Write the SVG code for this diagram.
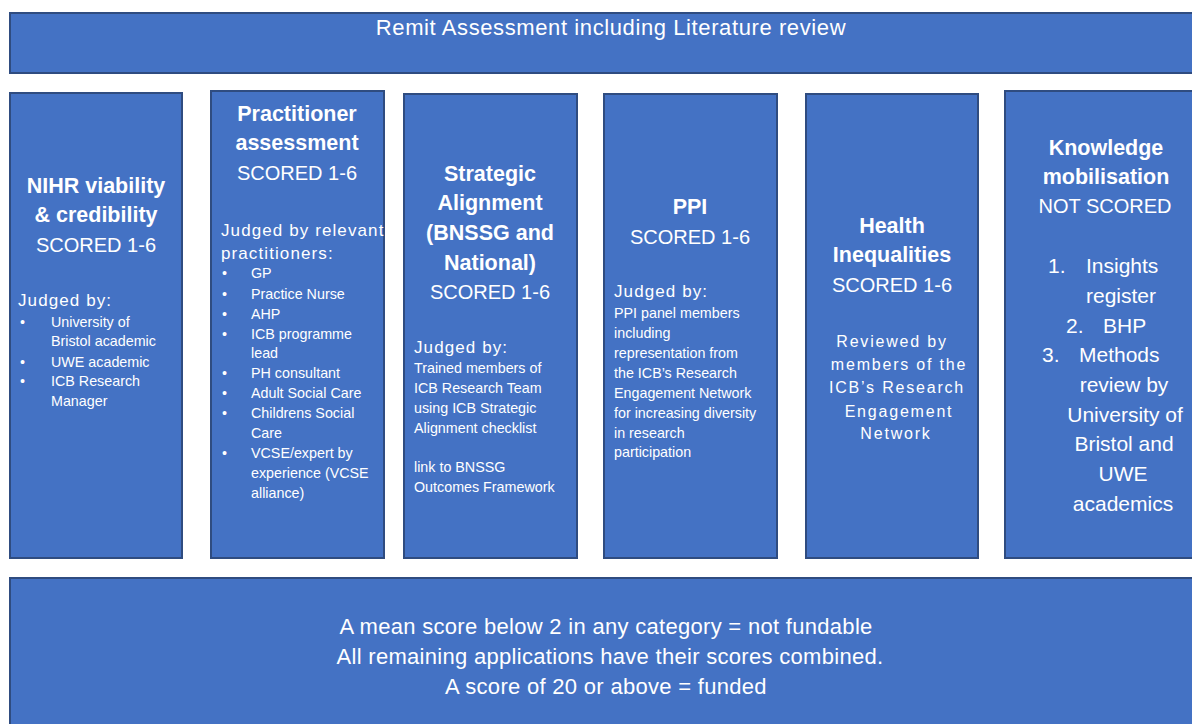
<svg xmlns="http://www.w3.org/2000/svg" width="1192" height="724" viewBox="0 0 1192 724">
<style>
.box{fill:#4472C4;stroke:#2F4C80;stroke-width:2}
text{font-family:"Liberation Sans",Arial,sans-serif;fill:#ffffff}
.h{font-size:21.5px;font-weight:bold;text-anchor:middle}
.sc{font-size:20px;text-anchor:middle}
.big{font-size:22px;text-anchor:middle;letter-spacing:0.3px}
.jb{font-size:17px;letter-spacing:1.1px}
.sm{font-size:14.3px}
.rv{font-size:16px;letter-spacing:1.8px;text-anchor:middle}
.km{font-size:21px}
</style>
<rect width="1192" height="724" fill="#ffffff"/>
<g id="remit">
<rect class="box" x="10" y="13" width="1200" height="60"/>
<text class="big" x="611" y="35" style="letter-spacing:0.6px">Remit Assessment including Literature review</text>
</g>
<g id="nihr">
<rect class="box" x="10" y="93" width="172" height="465"/>
<text class="h" x="96" y="193">NIHR viability</text>
<text class="h" x="96" y="222">&amp; credibility</text>
<text class="sc" x="96" y="252">SCORED 1-6</text>
<text class="jb" x="18" y="306">Judged by:</text>
<text class="sm" x="20" y="327">•</text><text class="sm" x="51" y="327">University of</text>
<text class="sm" x="51" y="346">Bristol academic</text>
<text class="sm" x="20" y="367">•</text><text class="sm" x="51" y="367">UWE academic</text>
<text class="sm" x="20" y="386">•</text><text class="sm" x="51" y="386">ICB Research</text>
<text class="sm" x="51" y="406">Manager</text>
</g>
<g id="practitioner">
<rect class="box" x="211" y="91" width="173" height="467"/>
<text class="h" x="297" y="121">Practitioner</text>
<text class="h" x="297" y="150">assessment</text>
<text class="sc" x="297" y="180">SCORED 1-6</text>
<text class="jb" x="221" y="236">Judged by relevant</text>
<text class="jb" x="221" y="259">practitioners:</text>
<text class="sm" x="222" y="278">•</text><text class="sm" x="251" y="278">GP</text>
<text class="sm" x="222" y="299">•</text><text class="sm" x="251" y="299">Practice Nurse</text>
<text class="sm" x="222" y="319">•</text><text class="sm" x="251" y="319">AHP</text>
<text class="sm" x="222" y="339">•</text><text class="sm" x="251" y="339">ICB programme</text>
<text class="sm" x="251" y="358">lead</text>
<text class="sm" x="222" y="378">•</text><text class="sm" x="251" y="378">PH consultant</text>
<text class="sm" x="222" y="398">•</text><text class="sm" x="251" y="398">Adult Social Care</text>
<text class="sm" x="222" y="418">•</text><text class="sm" x="251" y="418">Childrens Social</text>
<text class="sm" x="251" y="438">Care</text>
<text class="sm" x="222" y="458">•</text><text class="sm" x="251" y="458">VCSE/expert by</text>
<text class="sm" x="251" y="478">experience (VCSE</text>
<text class="sm" x="251" y="498">alliance)</text>
</g>
<g id="strategic">
<rect class="box" x="404" y="94" width="173" height="464"/>
<text class="h" x="490" y="181">Strategic</text>
<text class="h" x="490" y="210">Alignment</text>
<text class="h" x="490" y="240">(BNSSG and</text>
<text class="h" x="490" y="270">National)</text>
<text class="sc" x="490" y="299">SCORED 1-6</text>
<text class="jb" x="414" y="353">Judged by:</text>
<text class="sm" x="414" y="373">Trained members of</text>
<text class="sm" x="414" y="393">ICB Research Team</text>
<text class="sm" x="414" y="413">using ICB Strategic</text>
<text class="sm" x="414" y="433">Alignment checklist</text>
<text class="sm" x="414" y="472">link to BNSSG</text>
<text class="sm" x="414" y="492">Outcomes Framework</text>
</g>
<g id="ppi">
<rect class="box" x="604" y="94" width="173" height="464"/>
<text class="h" x="690" y="214">PPI</text>
<text class="sc" x="690" y="244">SCORED 1-6</text>
<text class="jb" x="614" y="297">Judged by:</text>
<text class="sm" x="614" y="318">PPI panel members</text>
<text class="sm" x="614" y="338">including</text>
<text class="sm" x="614" y="358">representation from</text>
<text class="sm" x="614" y="378">the ICB’s Research</text>
<text class="sm" x="614" y="398">Engagement Network</text>
<text class="sm" x="614" y="418">for increasing diversity</text>
<text class="sm" x="614" y="438">in research</text>
<text class="sm" x="614" y="457">participation</text>
</g>
<g id="health">
<rect class="box" x="806" y="94" width="172" height="464"/>
<text class="h" x="892" y="233">Health</text>
<text class="h" x="892" y="262">Inequalities</text>
<text class="sc" x="892" y="292">SCORED 1-6</text>
<text class="rv" x="892" y="347">Reviewed by</text>
<text class="rv" x="899" y="370">members of the</text>
<text class="rv" x="897" y="393">ICB’s Research</text>
<text class="rv" x="899" y="417">Engagement</text>
<text class="rv" x="896" y="439">Network</text>
</g>
<g id="knowledge">
<rect class="box" x="1005" y="91" width="200" height="467"/>
<text class="h" x="1106" y="155">Knowledge</text>
<text class="h" x="1106" y="184">mobilisation</text>
<text class="sc" x="1105" y="213">NOT SCORED</text>
<text class="km" x="1048" y="273">1.</text><text class="km" x="1086" y="273">Insights</text>
<text class="km" x="1086" y="303">register</text>
<text class="km" x="1066" y="333">2.</text><text class="km" x="1103" y="333">BHP</text>
<text class="km" x="1042" y="362">3.</text><text class="km" x="1079" y="362">Methods</text>
<text class="km" x="1124" y="392" text-anchor="middle">review by</text>
<text class="km" x="1125" y="422" text-anchor="middle">University of</text>
<text class="km" x="1124" y="451" text-anchor="middle">Bristol and</text>
<text class="km" x="1123" y="481" text-anchor="middle">UWE</text>
<text class="km" x="1123" y="511" text-anchor="middle">academics</text>
</g>
<g id="outcome">
<rect class="box" x="10" y="578" width="1200" height="160"/>
<text class="big" x="606" y="634">A mean score below 2 in any category = not fundable</text>
<text class="big" x="610" y="664">All remaining applications have their scores combined.</text>
<text class="big" x="606" y="694">A score of 20 or above = funded</text>
</g>
<g id="connectors"></g>
</svg>
